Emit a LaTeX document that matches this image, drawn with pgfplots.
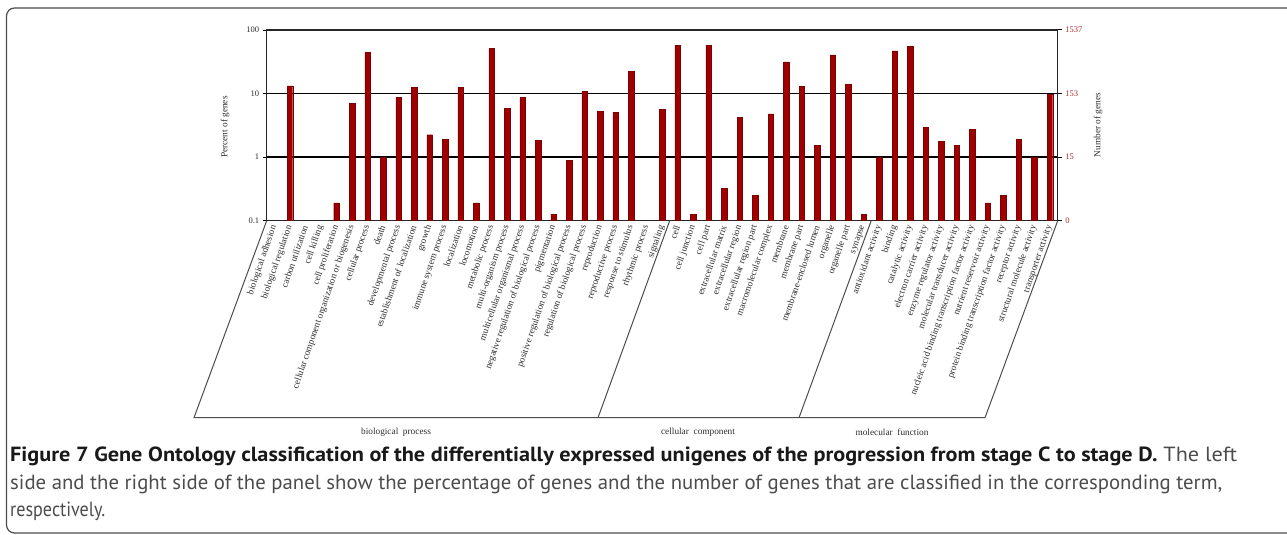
\documentclass[border=0pt]{standalone}
\usepackage{pgfplots}
\pgfplotsset{compat=1.18}
\usepackage{graphicx}
\usepackage{fontspec}
\setmainfont{Liberation Serif}
\newfontfamily\capfont{PT Sans}

\definecolor{barred}{RGB}{158,0,0}
\definecolor{numred}{RGB}{175,45,45}
\definecolor{txt}{RGB}{45,45,45}

\begin{document}
\begin{tikzpicture}[x=1pt,y=1pt]
\useasboundingbox (0,0) rectangle (1287,535);
% figure frame
\draw[black!70, line width=1.2pt, rounded corners=8pt] (1291,527) -- (6.5,527) -- (6.5,2) -- (1291,2);

\begin{axis}[
    at={(266.7pt,314.3pt)}, anchor=south west,
    scale only axis, width=791pt, height=190.7pt,
    ymode=log, ymin=0.1, ymax=100, log origin=infty,
    xmin=-0.5, xmax=50.5,
    enlargelimits=false,
    ybar, bar width=5.5pt,
    ytick={0.1,1,10,100}, yticklabels={0.1,1,10,100},
    yminorticks=false,
    ymajorgrids, grid style={black, line width=1.3pt},
    axis line style={black!85, line width=1.3pt},
    xtick={0,...,50},
    xticklabels={biological adhesion,biological regulation,carbon utilization,cell killing,cell proliferation,cellular component organization or biogenesis,cellular process,death,developmental process,establishment of localization,growth,immune system process,localization,locomotion,metabolic process,multi-organism process,multicellular organismal process,negative regulation of biological process,pigmentation,positive regulation of biological process,regulation of biological process,reproduction,reproductive process,response to stimulus,rhythmic process,signaling,cell,cell junction,cell part,extracellular matrix,extracellular region,extracellular region part,macromolecular complex,membrane,membrane part,membrane-enclosed lumen,organelle,organelle part,synapse,antioxidant activity,binding,catalytic activity,electron carrier activity,enzyme regulator activity,molecular transducer activity,nucleic acid binding transcription factor activity,nutrient reservoir activity,protein binding transcription factor activity,receptor activity,structural molecule activity,transporter activity},
    x tick label style={rotate=71, anchor=east, font=\fontsize{9.3}{10}\selectfont, text=txt, inner sep=1pt},
    y tick label style={font=\fontsize{8.5}{10}\selectfont, text=txt},
    major x tick style={draw=none},
    tick align=outside, major tick length=4pt,
    y tick style={black, line width=1pt},
    ytick pos=left,
    clip=false,
]
\addplot[fill=barred, draw=barred!80!black] coordinates {
(1,13.2)(4,0.19)(5,7.1)(6,44)(7,0.99)(8,8.7)(9,12.4)(10,2.25)(11,1.9)(12,12.4)
(13,0.19)(14,51)(15,5.8)(16,8.8)(17,1.85)(18,0.127)(19,0.9)(20,10.8)(21,5.2)(22,5.1)
(23,22.5)(25,5.6)
(26,57.5)(27,0.126)(28,57.5)(29,0.32)(30,4.2)(31,0.25)(32,4.8)(33,31.5)(34,12.9)(35,1.53)
(36,40.5)(37,13.9)(38,0.126)
(39,1.0)(40,47)(41,56)(42,2.97)(43,1.79)(44,1.53)(45,2.73)(46,0.19)(47,0.25)(48,1.9)
(49,1.0)(50,9.8)
};
\end{axis}

\begin{axis}[
    at={(266.7pt,314.3pt)}, anchor=south west,
    scale only axis, width=791pt, height=190.7pt,
    ymode=log, ymin=0.1, ymax=100,
    xmin=-0.5, xmax=50.5,
    axis x line=none, axis y line*=right,
    axis line style={black!85, line width=1.3pt},
    ytick={0.1,1,10,100}, yticklabels={0,15,153,1537},
    yminorticks=false,
    y tick label style={font=\fontsize{8.5}{10}\selectfont, text=numred},
    tick align=outside, major tick length=4pt,
    y tick style={black, line width=1pt},
]
\end{axis}

% axis titles
\node[rotate=90, font=\fontsize{9.3}{11}\selectfont, text=txt] at (225,408) {Percent of genes};
\node[rotate=90, font=\fontsize{9.3}{11}\selectfont, text=txt] at (1098,410) {Number of genes};

% ontology frames
\draw[black!70, line width=1pt] (266.7,314.3) -- (194,117.3) -- (985,117.3) -- (1057.7,314.3);
\draw[black!70, line width=1pt] (669.7,314.3) -- (598,117.3);
\draw[black!70, line width=1pt] (871.2,314.3) -- (799,117.3);
\node[font=\fontsize{9.3}{11}\selectfont, text=txt] at (396,103) {biological\ \ process};
\node[font=\fontsize{9.3}{11}\selectfont, text=txt] at (698,103) {cellular\ \ component};
\node[font=\fontsize{9.3}{11}\selectfont, text=txt] at (892,103) {molecular\ \ function};

% caption
\node[anchor=base west, inner sep=0] at (10,73) {\resizebox{1227pt}{\height}{\capfont\fontsize{20.5}{24}\selectfont\color{black!90}\textbf{Figure 7 Gene Ontology classification of the differentially expressed unigenes of the progression from stage C to stage D.} \color{black!70}The left}};
\node[anchor=base west, inner sep=0] at (10,45.5) {\resizebox{1212pt}{\height}{\capfont\fontsize{20.5}{24}\selectfont\color{black!70}side and the right side of the panel show the percentage of genes and the number of genes that are classified in the corresponding term,}};
\node[anchor=base west, inner sep=0] at (10,18) {\resizebox{95pt}{\height}{\capfont\fontsize{20.5}{24}\selectfont\color{black!70}respectively.}};
\end{tikzpicture}
\end{document}
